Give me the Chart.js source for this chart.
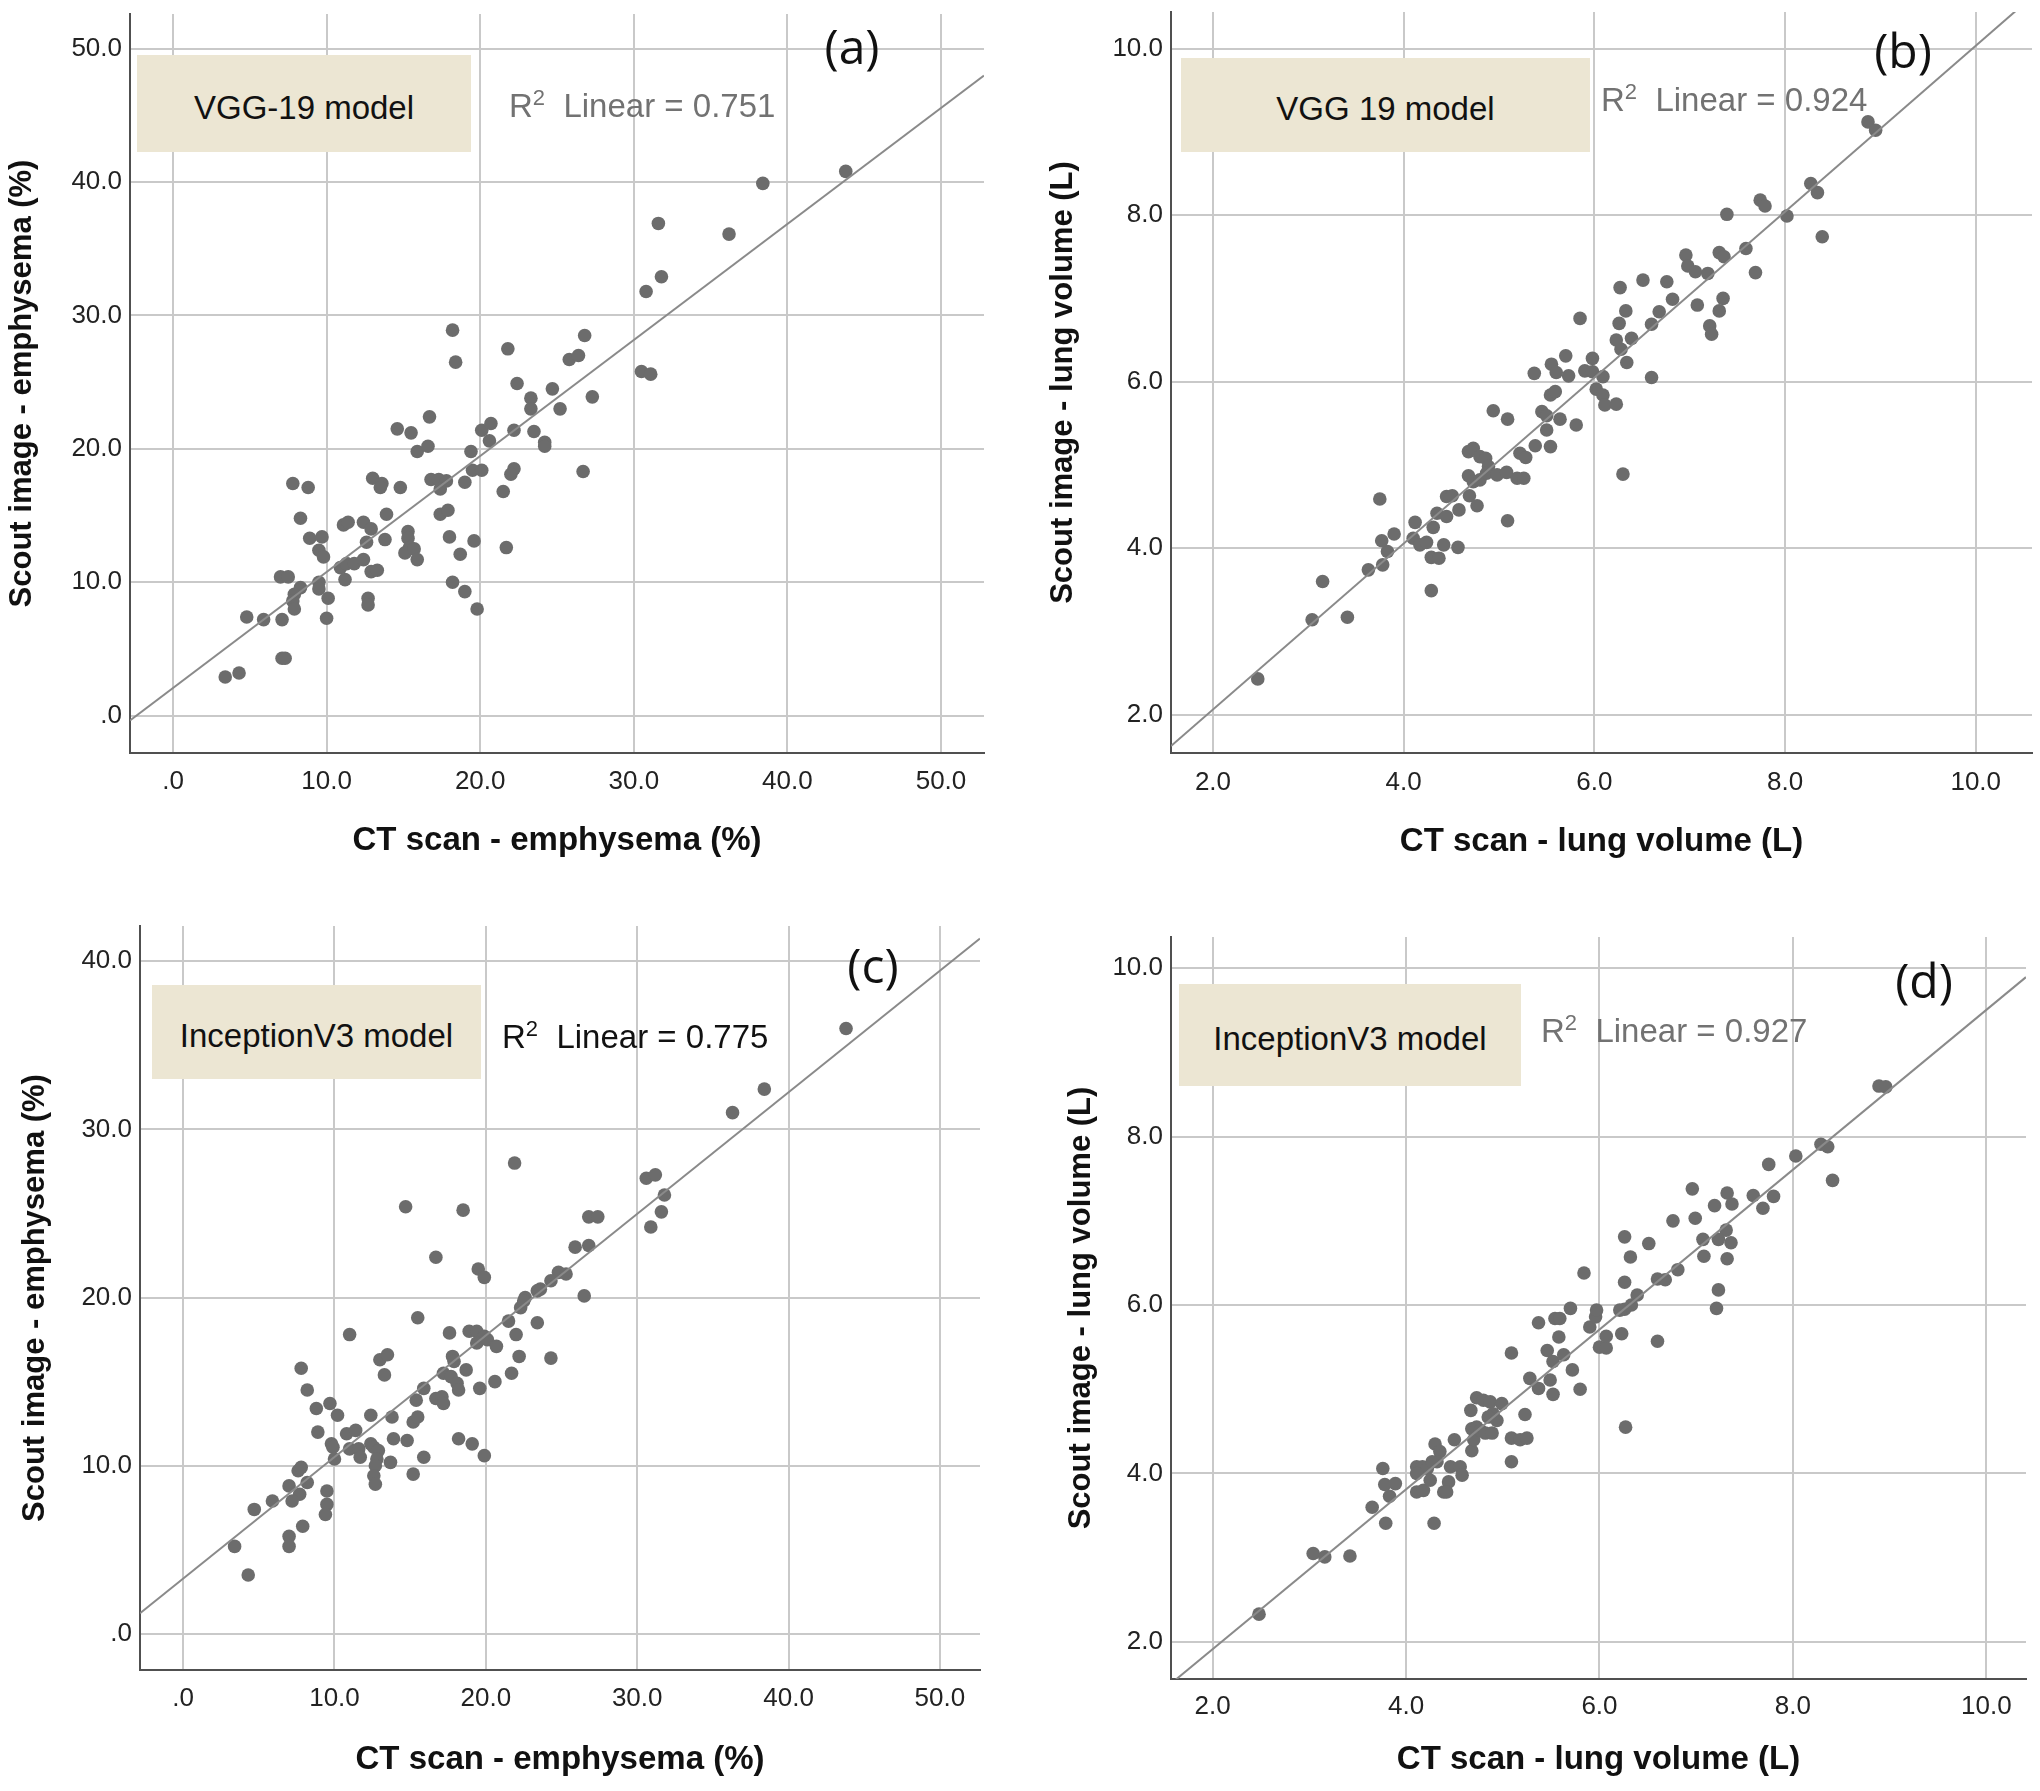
<!DOCTYPE html>
<html>
<head>
<meta charset="utf-8">
<script src="https://cdn.jsdelivr.net/npm/chart.js@4.4.1/dist/chart.umd.min.js"></script>
<style>
  body { margin: 0; width: 2040px; height: 1791px; position: relative; background: #fff; overflow: hidden;
         font-family: "Liberation Sans", Arial, sans-serif; }
  canvas { position: absolute; }
  .box { position: absolute; background: #ece6d3; color: #111; font-size: 33px;
         display: flex; align-items: center; justify-content: center; padding-top: 8px; box-sizing: border-box; }
  .r2 { position: absolute; font-size: 33px; color: #727272; white-space: nowrap; transform: translateY(-50%); }
  .r2 sup { font-size: 22px; vertical-align: 12px; line-height: 0; }
  .tag { position: absolute; font-family: "Open Sans", sans-serif; font-size: 48px; color: #111;
         transform: translate(-50%, -50%); line-height: 1; }
</style>
</head>
<body>
<canvas id="pa" width="1000" height="880" style="left:0px;top:0px"></canvas>
<canvas id="pb" width="1030" height="880" style="left:1010px;top:0px"></canvas>
<canvas id="pc" width="1000" height="901" style="left:0px;top:890px"></canvas>
<canvas id="pd" width="1030" height="901" style="left:1010px;top:890px"></canvas>

<div class="box" style="left:137px;top:55px;width:334px;height:97px">VGG-19 model</div>
<div class="r2" style="left:509px;top:106px">R<sup>2</sup>&nbsp; Linear = 0.751</div>
<div class="tag" style="left:852px;top:46px">(a)</div>

<div class="box" style="left:1181px;top:58px;width:409px;height:94px">VGG 19 model</div>
<div class="r2" style="left:1601px;top:100px">R<sup>2</sup>&nbsp; Linear = 0.924</div>
<div class="tag" style="left:1903px;top:50px">(b)</div>

<div class="box" style="left:152px;top:985px;width:329px;height:94px">InceptionV3 model</div>
<div class="r2" style="left:502px;top:1037px;color:#111">R<sup>2</sup>&nbsp; Linear = 0.775</div>
<div class="tag" style="left:873px;top:965px">(c)</div>

<div class="box" style="left:1179px;top:984px;width:342px;height:102px">InceptionV3 model</div>
<div class="r2" style="left:1541px;top:1031px">R<sup>2</sup>&nbsp; Linear = 0.927</div>
<div class="tag" style="left:1924px;top:980px">(d)</div>

<script>
// [CT scan, scout image] pairs
const emphVgg = [
  [18.2,28.9],[18.4,26.5],[21.8,27.5],[22.4,24.9],[16.7,22.4],[14.6,21.5],[15.5,21.2],[15.9,19.8],[16.6,20.2],
  [20.1,21.4],[20.7,21.9],[20.6,20.6],[22.2,21.4],[19.4,19.8],[19.5,18.4],[20.1,18.4],[22.2,18.5],[22.0,18.1],
  [21.5,16.8],[19.0,17.5],[16.8,17.7],[17.3,17.7],[17.8,17.6],[17.4,17.0],[13.0,17.8],[13.6,17.4],[13.5,17.1],
  [14.8,17.1],[7.8,17.4],[8.8,17.1],[13.9,15.1],[8.3,14.8],[11.1,14.3],[11.4,14.5],[12.4,14.5],[12.9,14.0],
  [12.6,13.0],[13.8,13.2],[15.3,13.8],[15.3,13.3],[15.4,12.6],[15.1,12.2],[15.7,12.5],[15.9,11.7],[17.4,15.1],
  [17.9,15.4],[18.0,13.4],[19.6,13.1],[18.7,12.1],[21.7,12.6],[8.9,13.3],[9.7,13.4],[9.5,12.4],[9.8,11.9],
  [10.9,11.1],[11.3,11.4],[11.8,11.4],[12.4,11.7],[12.9,10.8],[13.3,10.9],[11.2,10.2],[7.0,10.4],[7.5,10.4],
  [8.3,9.6],[7.9,9.1],[7.8,8.6],[9.5,10.0],[9.5,9.5],[10.1,8.8],[12.7,8.8],[12.7,8.3],[7.9,8.0],[4.8,7.4],
  [5.9,7.2],[7.1,7.2],[10.0,7.3],[7.1,4.3],[7.3,4.3],[3.4,2.9],[4.3,3.2],[18.2,10.0],[19.0,9.3],[19.8,8.0],
  [43.8,40.8],[38.4,39.9],[31.6,36.9],[36.2,36.1],[31.8,32.9],[30.8,31.8],[30.5,25.8],[31.1,25.6],[26.8,28.5],
  [25.8,26.7],[26.4,27.0],[24.7,24.5],[23.3,23.8],[23.3,23.0],[25.2,23.0],[27.3,23.9],[23.5,21.3],[24.2,20.5],
  [24.2,20.2],[26.7,18.3]
];

const volVgg = [
  [2.47,2.43],[3.04,3.14],[3.41,3.17],[3.15,3.6],[3.63,3.74],[3.78,3.8],[3.83,3.96],[3.77,4.09],[3.9,4.17],
  [3.75,4.59],[4.29,3.49],[4.12,4.31],[4.31,4.25],[4.1,4.12],[4.17,4.04],[4.24,4.07],[4.29,3.89],[4.37,3.88],
  [4.42,4.04],[4.57,4.01],[4.35,4.42],[4.45,4.38],[4.45,4.62],[4.51,4.63],[4.58,4.46],[4.69,4.63],[4.77,4.51],
  [5.09,4.33],[4.68,4.87],[4.73,4.8],[4.8,4.82],[4.68,5.16],[4.73,5.2],[4.8,5.1],[4.86,5.08],[4.89,4.98],
  [4.87,4.9],[4.98,4.88],[5.08,4.91],[5.19,4.84],[5.26,4.84],[5.22,5.14],[5.28,5.09],[5.38,5.23],[5.54,5.22],
  [5.5,5.42],[5.45,5.64],[5.5,5.59],[5.64,5.55],[5.81,5.48],[4.94,5.65],[5.09,5.55],[5.54,5.84],[5.59,5.88],
  [5.37,6.1],[5.55,6.21],[5.6,6.11],[5.7,6.31],[5.73,6.07],[5.9,6.13],[5.98,6.12],[5.98,6.28],
  [8.87,9.12],[8.95,9.02],[8.27,8.38],[8.34,8.27],[7.74,8.18],[7.79,8.11],[7.39,8.01],[8.02,7.99],[8.39,7.74],
  [7.59,7.6],[7.31,7.55],[7.36,7.5],[7.69,7.31],[6.96,7.52],[6.98,7.39],[7.06,7.32],[7.19,7.3],[6.51,7.22],
  [6.76,7.2],[6.27,7.13],[6.82,6.99],[7.08,6.92],[7.35,7.0],[7.31,6.85],[7.21,6.67],[7.23,6.57],[6.68,6.84],
  [6.6,6.69],[6.33,6.85],[6.26,6.7],[6.39,6.52],[6.23,6.5],[6.28,6.39],[6.34,6.23],[5.85,6.76],[6.09,6.06],
  [6.02,5.91],[6.09,5.84],[6.11,5.72],[6.23,5.73],[6.6,6.05],[6.3,4.89]
];

const emphIncep = [
  [21.9,28.0],[14.7,25.4],[18.5,25.2],[16.7,22.4],[19.5,21.7],[19.9,21.2],[15.5,18.8],[11.0,17.8],[17.6,17.9],
  [13.0,16.3],[13.5,16.6],[13.3,15.4],[7.8,15.8],[8.2,14.5],[8.8,13.4],[9.7,13.7],[10.2,13.0],[8.9,12.0],
  [12.4,13.0],[13.8,12.9],[18.9,18.0],[19.4,18.0],[19.9,17.7],[19.4,17.3],[20.1,17.5],[20.7,17.1],[21.5,18.6],
  [22.0,17.8],[22.2,16.5],[21.7,15.5],[20.6,15.0],[19.6,14.6],[17.8,16.5],[17.9,16.2],[18.7,15.7],[17.2,15.5],
  [17.7,15.3],[18.1,14.9],[18.2,14.5],[16.7,14.0],[17.1,14.1],[17.2,13.7],[15.9,14.6],[15.4,13.9],[15.2,12.6],
  [15.5,12.9],[13.9,11.6],[14.8,11.5],[15.9,10.5],[15.2,9.5],[18.2,11.6],[19.1,11.3],[19.9,10.6],[10.8,11.9],
  [11.4,12.1],[9.8,11.3],[9.9,11.1],[10.0,10.4],[11.0,11.0],[11.6,11.0],[11.7,10.5],[12.4,11.3],[12.6,11.1],
  [12.9,10.9],[12.8,10.4],[12.7,10.0],[12.6,9.4],[12.7,8.9],[13.7,10.2],[7.6,9.7],[7.8,9.9],[8.2,9.0],
  [7.0,8.8],[7.7,8.3],[7.2,7.9],[9.5,8.5],[9.5,7.7],[9.4,7.1],[5.9,7.9],[4.7,7.4],[7.9,6.4],[7.0,5.8],
  [7.0,5.2],[3.4,5.2],[4.3,3.5],
  [43.8,36.0],[38.4,32.4],[36.3,31.0],[30.6,27.1],[31.2,27.3],[31.8,26.1],[31.6,25.1],[30.9,24.2],[26.8,24.8],
  [27.4,24.8],[25.9,23.0],[26.8,23.1],[24.8,21.5],[25.3,21.4],[24.3,21.0],[23.6,20.5],[23.4,20.4],[22.6,20.0],
  [22.3,19.4],[22.5,19.8],[26.5,20.1],[23.4,18.5],[24.3,16.4]
];

const volIncep = [
  [2.48,2.33],[3.04,3.05],[3.16,3.01],[3.42,3.02],[3.65,3.6],[3.79,3.41],[3.76,4.06],[3.78,3.87],[3.89,3.88],
  [3.83,3.73],[4.29,3.41],[4.11,4.08],[4.17,4.08],[4.22,4.06],[4.11,4.0],[4.11,3.78],[4.18,3.8],[4.25,3.92],
  [4.3,4.35],[4.35,4.26],[4.32,4.14],[4.27,4.14],[4.46,4.08],[4.56,4.08],[4.58,3.98],[4.44,3.9],[4.39,3.78],
  [4.42,3.78],[4.5,4.4],[4.68,4.27],[4.7,4.4],[4.68,4.53],[4.73,4.55],[4.77,4.51],[4.82,4.48],[4.89,4.48],
  [4.67,4.75],[4.73,4.9],[4.8,4.87],[4.87,4.85],[4.9,4.71],[4.85,4.67],[4.94,4.63],[4.99,4.83],[5.09,4.42],
  [5.18,4.4],[5.25,4.42],[5.09,4.14],[5.23,4.7],[5.09,5.43],[5.28,5.13],[5.37,5.01],[5.49,5.11],[5.52,4.94],
  [5.46,5.46],[5.52,5.33],[5.63,5.41],[5.72,5.23],[5.8,5.0],[5.58,5.62],[5.37,5.79],[5.54,5.84],[5.59,5.84],
  [5.7,5.96],[5.84,6.38],[5.9,5.74],[5.96,5.86],[5.97,5.94],[6.0,5.5],[6.07,5.49],[6.07,5.63],
  [8.89,8.6],[8.96,8.59],[8.29,7.91],[8.36,7.88],[8.03,7.77],[7.75,7.67],[8.41,7.48],[6.96,7.38],[7.32,7.33],
  [7.37,7.2],[7.19,7.18],[7.59,7.3],[7.8,7.29],[7.69,7.15],[6.76,7.0],[6.99,7.03],[7.31,6.89],[7.23,6.78],
  [7.36,6.74],[7.07,6.78],[7.08,6.58],[7.32,6.55],[6.26,6.81],[6.51,6.73],[6.32,6.57],[6.81,6.42],[6.6,6.31],
  [6.68,6.3],[6.26,6.27],[6.39,6.12],[6.33,6.0],[6.26,5.95],[6.21,5.94],[7.23,6.18],[7.21,5.96],[6.23,5.66],
  [6.6,5.57],[6.27,4.55]
];

// axis ticks and ranges
const pctTicks = [0, 10, 20, 30, 40, 50];
const pctTickLabels = ['.0', '10.0', '20.0', '30.0', '40.0', '50.0'];
const pctTicksC = [0, 10, 20, 30, 40];
const volTicks = [2, 4, 6, 8, 10];
const volTickLabels = ['2.0', '4.0', '6.0', '8.0', '10.0'];

const rangeA = { x: [-2.8, 52.8], y: [-2.8, 52.6] };
const rangeB = { x: [1.56, 10.59], y: [1.54, 10.44] };
const rangeC = { x: [-2.85, 52.65], y: [-2.15, 42.1] };
const rangeD = { x: [1.57, 10.41], y: [1.56, 10.37] };

// least squares fit line across the whole x range
function fitLine(pts, x0, x1) {
    const n = pts.length;
    const mx = pts.reduce((s, p) => s + p[0], 0) / n;
    const my = pts.reduce((s, p) => s + p[1], 0) / n;
    let sxy = 0, sxx = 0;
    pts.forEach(p => { sxy += (p[0] - mx) * (p[1] - my); sxx += (p[0] - mx) * (p[0] - mx); });
    const b = sxy / sxx, a = my - b * mx;
    return [{ x: x0, y: a + b * x0 }, { x: x1, y: a + b * x1 }];
}

function labelFor(ticks, labels) {
    return function (value) {
        const i = ticks.indexOf(Math.round(value * 100) / 100);
        return i >= 0 ? labels[i] : '';
    };
}

function makePanel(id, pts, range, xTicks, xLabels, yTicks, yLabels, xTitle, yTitle, lay) {
    const ctx = document.getElementById(id).getContext('2d');
    const cw = ctx.canvas.width, chh = ctx.canvas.height;
    new Chart(ctx, {
        type: 'scatter',
        data: {
            datasets: [
                {
                    type: 'line',
                    data: fitLine(pts, range.x[0], range.x[1]),
                    borderColor: '#8a8a8a',
                    borderWidth: 2,
                    pointRadius: 0,
                    fill: false
                },
                {
                    data: pts.map(p => ({ x: p[0], y: p[1] })),
                    pointRadius: 6.8,
                    pointBackgroundColor: '#6c6c6c',
                    pointBorderWidth: 0
                }
            ]
        },
        options: {
            responsive: false,
            animation: false,
            events: [],
            layout: { padding: { left: 0, top: lay.plot[1], right: cw - lay.plot[2], bottom: 0 } },
            plugins: { legend: { display: false }, tooltip: { enabled: false } },
            scales: {
                x: {
                    type: 'linear',
                    min: range.x[0],
                    max: range.x[1],
                    afterBuildTicks: s => { s.ticks = xTicks.map(v => ({ value: v })); },
                    afterFit: s => { s.height = chh - lay.plot[3]; s.paddingLeft = 0; s.paddingRight = 0; },
                    grid: { color: '#c9c9c9', lineWidth: 2, drawTicks: false },
                    border: { display: true, color: '#505050', width: 2 },
                    ticks: {
                        callback: labelFor(xTicks, xLabels),
                        padding: lay.xTickPad,
                        color: '#222',
                        font: { family: 'Liberation Sans', size: 26 },
                        maxRotation: 0
                    },
                    title: {
                        display: true,
                        text: xTitle,
                        color: '#111',
                        font: { family: 'Liberation Sans', size: 33, weight: 'bold' },
                        padding: { top: 0, bottom: lay.xTitlePad }
                    }
                },
                y: {
                    type: 'linear',
                    min: range.y[0],
                    max: range.y[1],
                    afterBuildTicks: s => { s.ticks = yTicks.map(v => ({ value: v })); },
                    afterFit: s => { s.width = lay.plot[0]; s.paddingTop = 0; s.paddingBottom = 0; },
                    grid: { color: '#c9c9c9', lineWidth: 2, drawTicks: false },
                    border: { display: true, color: '#505050', width: 2 },
                    ticks: {
                        callback: labelFor(yTicks, yLabels),
                        padding: 8,
                        color: '#222',
                        font: { family: 'Liberation Sans', size: 26 }
                    },
                    title: {
                        display: true,
                        text: yTitle,
                        color: '#111',
                        font: { family: 'Liberation Sans', size: 31, weight: 'bold' },
                        padding: { top: lay.yTitlePad, bottom: 0 }
                    }
                }
            }
        }
    });
}

// plot = [left, top, right, bottom] of the data area inside each canvas
makePanel('pa', emphVgg, rangeA, pctTicks, pctTickLabels, pctTicks, pctTickLabels,
    'CT scan - emphysema (%)', 'Scout image - emphysema (%)',
    { plot: [130, 14, 984, 753], xTickPad: 13, xTitlePad: 19, yTitlePad: 4 });

makePanel('pb', volVgg, rangeB, volTicks, volTickLabels, volTicks, volTickLabels,
    'CT scan - lung volume (L)', 'Scout image - lung volume (L)',
    { plot: [161, 12, 1022, 753], xTickPad: 14, xTitlePad: 18, yTitlePad: 35 });

makePanel('pc', emphIncep, rangeC, pctTicks, pctTickLabels, pctTicksC, pctTickLabels,
    'CT scan - emphysema (%)', 'Scout image - emphysema (%)',
    { plot: [140, 36, 980, 780], xTickPad: 13, xTitlePad: 11, yTitlePad: 17 });

makePanel('pd', volIncep, rangeD, volTicks, volTickLabels, volTicks, volTickLabels,
    'CT scan - lung volume (L)', 'Scout image - lung volume (L)',
    { plot: [161, 47, 1016, 789], xTickPad: 12, xTitlePad: 11, yTitlePad: 53 });
</script>
</body>
</html>
